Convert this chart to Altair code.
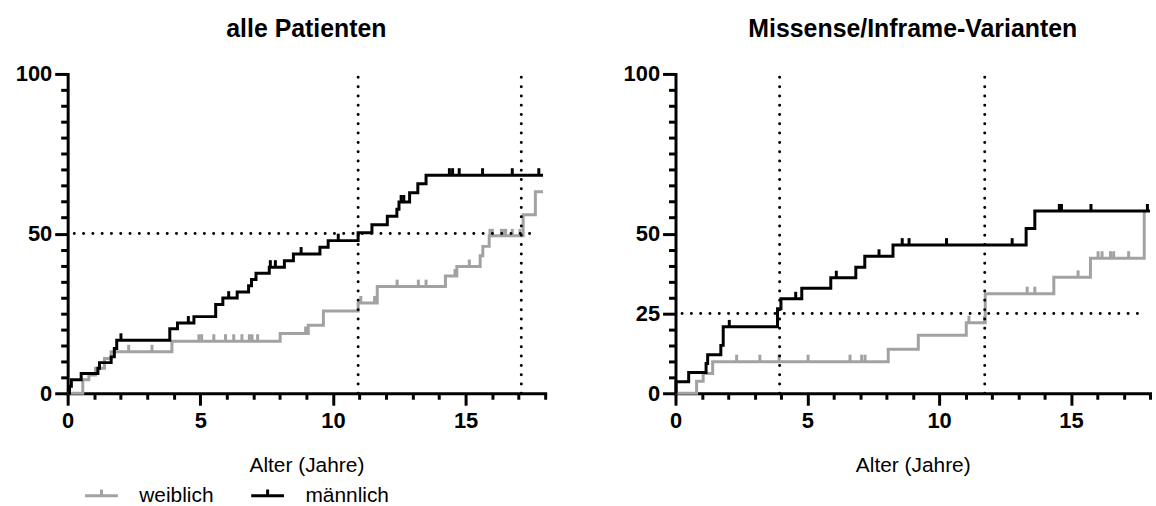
import altair as alt
import pandas as pd

# ---------------- data ----------------
# left panel: "alle Patienten"
L_M_T = [0, 0.07, 0.14, 0.51, 1.14, 1.2, 1.64, 1.76, 1.85, 3.85, 4.14, 4.76, 5.58, 5.85, 6.39,
         6.82, 6.93, 7.1, 7.6, 8.17, 8.51, 9.51, 9.82, 10.95, 11.47, 12.05, 12.41, 12.49, 12.89,
         13.2, 13.51, 17.92]
L_M_V = [0, 2.2, 4.2, 6.2, 7.8, 9.6, 11.4, 14.0, 16.6, 20.2, 22.0, 24.0, 27.8, 29.8, 31.7,
         33.7, 35.6, 37.6, 39.5, 41.5, 43.6, 45.7, 47.8, 50.3, 52.8, 55.4, 57.6, 59.9, 62.8,
         65.6, 68.3, 68.3]
L_MC_T = [2.01, 4.55, 6.07, 7.64, 7.83, 8.8, 10.2, 12.57, 12.67, 14.39, 14.51, 14.76, 15.64, 16.76, 17.76]
L_MC_V = [16.6, 22.0, 29.8, 39.5, 39.5, 43.6, 47.8, 59.9, 59.9, 68.3, 68.3, 68.3, 68.3, 68.3, 68.3]

L_F_T = [0, 0.57, 0.8, 1.05, 1.39, 1.64, 3.93, 8.01, 9.07, 9.64, 10.95, 11.67, 14.24, 14.67,
         15.55, 15.65, 15.89, 17.17, 17.63, 17.92]
L_F_V = [0, 4.2, 5.7, 7.8, 10.9, 13.0, 16.3, 18.7, 21.3, 25.8, 28.3, 33.4, 36.7, 39.7,
         43.1, 46.0, 49.3, 55.9, 63.1, 63.1]
L_FC_T = [2.3, 3.18, 4.95, 5.05, 5.51, 5.95, 6.26, 6.57, 6.85, 6.95, 7.16, 8.97, 11.05, 11.57,
          12.42, 13.22, 13.51, 14.6, 15.14, 15.92, 16.01, 16.35, 16.45, 16.51, 16.76, 17.05]
L_FC_V = [13.0, 13.0, 16.3, 16.3, 16.3, 16.3, 16.3, 16.3, 16.3, 16.3, 16.3, 18.7, 28.3, 28.3,
          33.4, 33.4, 33.4, 36.7, 39.7, 49.3, 49.3, 49.3, 49.3, 49.3, 49.3, 49.3]
L_VLINES = [10.95, 17.1]
L_HLINE = [50]

# right panel: "Missense/Inframe-Varianten"
R_M_T = [0, 0.02, 0.5, 1.16, 1.22, 1.72, 1.81, 3.87, 4.0, 4.79, 5.89, 6.84, 7.18, 8.25, 13.3, 13.63, 18.0]
R_M_V = [0, 3.6, 6.5, 9.3, 12.1, 15.0, 20.8, 26.5, 29.6, 32.9, 36.2, 39.5, 42.9, 46.4, 51.6, 57.1, 57.1]
R_MC_T = [2.04, 4.56, 6.1, 7.72, 8.6, 8.86, 10.28, 12.77, 14.56, 14.64, 15.76, 17.9]
R_MC_V = [20.8, 29.6, 36.2, 42.9, 46.4, 46.4, 46.4, 46.4, 57.1, 57.1, 57.1, 57.1]

R_F_T = [0, 0.8, 1.05, 1.41, 8.07, 9.21, 11.03, 11.75, 14.35, 15.74, 17.78]
R_F_V = [0, 3.8, 6.2, 9.9, 13.8, 18.2, 22.1, 31.2, 36.3, 42.3, 56.8]
R_FC_T = [2.32, 3.2, 3.93, 5.03, 6.62, 7.06, 7.19, 11.13, 11.72, 13.34, 13.63, 15.27,
          16.03, 16.18, 16.5, 16.62, 17.19]
R_FC_V = [9.9, 9.9, 9.9, 9.9, 9.9, 9.9, 9.9, 22.1, 22.1, 31.2, 31.2, 36.3,
          42.3, 42.3, 42.3, 42.3, 42.3]
R_VLINES = [3.95, 11.73]
R_HLINE = [25]

X_TICKS = list(range(0, 19))
Y_TICKS = list(range(0, 101, 5))
L_Y_LABELS = [0, 50, 100]
R_Y_LABELS = [0, 25, 50, 100]
SEXES = ["weiblich", "männlich"]
X_TITLE = "Alter (Jahre)"
V_RANGE = (0, 100)        # vertical reference lines span
H_RANGE = (0.25, 17.7)    # horizontal reference line span

FONT = "Liberation Sans"
GRAY = "#a2a2a2"
DOT = [0.01, 9.33]


def df(t, v, sex=None):
    d = pd.DataFrame({"t": t, "v": v})
    if sex is not None:
        d["sex"] = sex
    return d


color_scale = alt.Scale(domain=SEXES, range=[GRAY, "black"])


def panel(title, width, m_t, m_v, f_t, f_v, mc_t, mc_v, fc_t, fc_v, vlines, hline, ylabels, show_legend):
    lab_list = "[" + ",".join(str(v) for v in ylabels) + "]"
    x_axis = alt.Axis(
        values=X_TICKS,
        title=X_TITLE,
        titleFont=FONT, titleFontSize=21, titleFontWeight="normal", titleColor="black",
        titlePadding=24,
        labelExpr="datum.value % 5 === 0 ? datum.label : ''",
        labelFont=FONT, labelFontSize=22, labelFontWeight="bold", labelColor="black",
        labelPadding=5, labelOverlap=False, labelFlush=False,
        tickSize={"condition": {"test": "datum.value % 5 === 0", "value": 12}, "value": 6},
        tickWidth=3, tickColor="black",
        domainWidth=3, domainColor="black", domainCap="square",
        grid=False,
    )
    y_axis = alt.Axis(
        values=Y_TICKS,
        title=None,
        labelExpr="indexof(" + lab_list + ", datum.value) >= 0 ? datum.label : ''",
        labelFont=FONT, labelFontSize=22, labelFontWeight="bold", labelColor="black",
        labelPadding=3, labelOverlap=False, labelFlush=False,
        tickSize={"condition": {"test": "indexof(" + lab_list + ", datum.value) >= 0", "value": 13},
                  "value": 7},
        tickWidth=3, tickColor="black",
        domainWidth=3, domainColor="black", domainCap="square",
        grid=False,
    )
    x_scale = alt.Scale(domain=[0, 18], nice=False, zero=True)
    y_scale = alt.Scale(domain=[0, 100], nice=False)
    x_enc = alt.X("t:Q", scale=x_scale, axis=x_axis)
    y_enc = alt.Y("v:Q", scale=y_scale, axis=y_axis)

    if show_legend:
        legend = alt.Legend(
            orient="none", legendX=16, legendY=406, direction="horizontal", title=None,
            symbolType="M-1,0H1M0,0V-0.38", symbolSize=1089, symbolStrokeWidth=3,
            symbolFillColor="transparent", symbolOpacity=1,
            labelFont=FONT, labelFontSize=21, labelColor="black", labelOffset=20,
            columnPadding=31,
        )
    else:
        legend = None
    col = alt.Color("sex:N", scale=color_scale, legend=legend)

    layers = []
    for t, v, ct, cv, sex in [(f_t, f_v, fc_t, fc_v, "weiblich"), (m_t, m_v, mc_t, mc_v, "männlich")]:
        layers.append(
            alt.Chart(df(t, v, sex)).mark_line(interpolate="step-after", strokeWidth=3, opacity=1)
            .encode(x=x_enc, y=y_enc, color=col)
        )
        layers.append(
            alt.Chart(df(ct, cv, sex)).mark_tick(orient="vertical", size=7, thickness=3, yOffset=-3.5,
                                                 opacity=1)
            .encode(x=x_enc, y=y_enc, color=col)
        )
    vdf = pd.DataFrame({"t": vlines, "v": [V_RANGE[0]] * len(vlines), "v2": [V_RANGE[1]] * len(vlines)})
    layers.append(
        alt.Chart(vdf).mark_rule(strokeDash=DOT, strokeCap="round", strokeWidth=3, color="black")
        .encode(x=x_enc, y=y_enc, y2="v2")
    )
    hdf = pd.DataFrame({"v": hline, "t": [H_RANGE[0]] * len(hline), "t2": [H_RANGE[1]] * len(hline)})
    layers.append(
        alt.Chart(hdf).mark_rule(strokeDash=DOT, strokeCap="round", strokeWidth=3, color="black")
        .encode(y=y_enc, x=x_enc, x2="t2")
    )
    return alt.layer(*layers).properties(
        width=width, height=321,
        title=alt.TitleParams(title, font=FONT, fontSize=25, fontWeight="bold", color="black",
                              anchor="middle", offset=21),
    )


left = panel("alle Patienten", 480, L_M_T, L_M_V, L_F_T, L_F_V, L_MC_T, L_MC_V, L_FC_T, L_FC_V,
             L_VLINES, L_HLINE, L_Y_LABELS, True)
right = panel("Missense/Inframe-Varianten", 477, R_M_T, R_M_V, R_F_T, R_F_V, R_MC_T, R_MC_V,
              R_FC_T, R_FC_V, R_VLINES, R_HLINE, R_Y_LABELS, False)

chart = (
    alt.hconcat(left, right, spacing=74)
    .resolve_scale(color="independent")
    .resolve_legend(color="independent")
    .properties(padding={"left": 15, "top": 16, "right": 0, "bottom": 0}, background="white")
    .configure_view(stroke=None)
)

chart.save("out.html", embed_options={"renderer": "svg", "actions": False})
